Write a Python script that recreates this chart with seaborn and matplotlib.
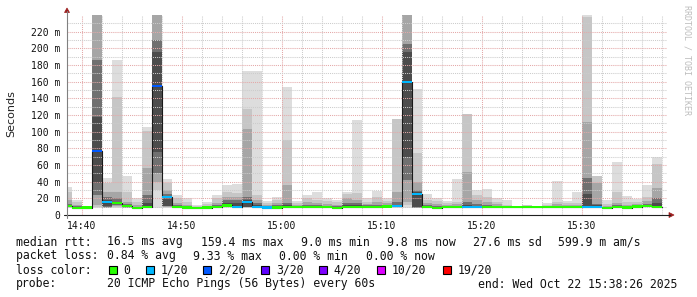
import numpy as np
import pandas as pd
import matplotlib
matplotlib.use("Agg")
import matplotlib.pyplot as plt
import seaborn as sns
from matplotlib.patches import Rectangle, Polygon

# ---------------- data ----------------
# one step per minute, minute index counted from 14:38
minutes = list(range(60))

median_ms = [11, 8.8, 9, 77, 15.5, 14, 10.5, 8.4, 10, 155,
             22, 10, 9, 8.8, 9, 10, 11.5, 10, 15.5, 10,
             9, 9, 9.5, 9.5, 10, 9.5, 9.2, 8.6, 9.8, 10,
             10, 9.5, 10.3, 10.5, 159.4, 25, 9.6, 8.6, 9.4, 9.4,
             9.4, 9.4, 9.4, 9.4, 9.4, 9.4, 9.4, 9.4, 9.4, 9.4,
             10, 9.2, 9.8, 9.8, 8.5, 9.8, 9, 10.2, 11, 9.8]

# index into loss_colors for each step
loss_step = [0, 0, 0, 2, 1, 0, 0, 0, 0, 2,
             1, 0, 0, 0, 0, 0, 0, 1, 1, 1,
             1, 0, 0, 0, 0, 0, 0, 0, 0, 0,
             0, 0, 0, 1, 1, 1, 0, 0, 0, 0,
             1, 1, 0, 0, 0, 0, 0, 0, 0, 0,
             0, 0, 1, 1, 0, 0, 0, 0, 0, 0]

# smoke bands (outer / lightest = 1 ... inner / darkest = 5), in ms
smoke_top_1 = [34, 18, 11, 250, 44, 186, 47, 21, 105, 250,
               43, 24, 21, 11.5, 15, 24, 36, 37, 173, 173,
               17, 22, 153, 17, 24, 28, 20, 18, 28, 114,
               21, 29, 21, 115, 250, 151, 25, 20, 17, 43,
               121, 30, 31, 20, 18, 11, 12, 10.5, 14, 41,
               17, 28, 241, 47, 18, 63, 23, 19, 36, 70]
smoke_top_2 = [28, 15, 10.5, 250, 38, 141, 28, 16, 101, 250,
               38, 20, 16, 10.5, 13, 20, 28, 27, 127, 24,
               14, 18, 90, 14, 20, 18, 17, 15, 25, 26,
               16, 22, 17, 115, 250, 74, 18, 17, 14, 16,
               121, 24, 22, 16, 12.5, 10.5, 11.5, 10.3, 12, 16,
               14, 14, 237, 47, 13, 28, 16, 16, 22, 61]
smoke_top_3 = [18, 12, 10, 250, 28, 28, 16, 12, 56, 250,
               30, 14, 12, 10, 11, 14, 22, 22, 103, 18,
               12, 14, 36, 12, 16, 14, 13, 12, 20, 18,
               13, 16, 14, 28, 250, 40, 14, 13, 12, 13,
               51, 18, 16, 13, 11, 10.2, 11, 10.2, 11, 13,
               12, 12, 112, 38, 11, 15, 12, 13, 17, 32]
smoke_top_4 = [13, 11, 9.5, 186, 22, 20, 13, 10, 24, 210,
               25, 12, 10.5, 9.5, 10, 11.5, 18, 18, 22, 14,
               10.5, 11.5, 15, 11, 12, 12, 11, 10.5, 14, 14,
               11.5, 12, 12, 16, 205, 30, 12, 10.5, 10.5, 11,
               16, 13, 12, 11, 10.5, 10, 10.5, 10.1, 10.5, 11,
               11, 10.5, 44, 13, 10, 12, 10.5, 11.5, 13, 20]
smoke_top_5 = [12, 10, 9.2, 118, 18, 16, 12, 9.5, 14, 195,
               23, 11, 10, 9.2, 9.6, 10.5, 14, 14, 18, 12,
               10, 10.5, 12, 10.5, 11, 11, 10, 10, 12, 12,
               11, 11, 11, 12, 196, 27, 11, 9.5, 10, 10.5,
               12, 11, 11, 10.5, 10, 9.8, 10, 10, 10, 10.5,
               10.5, 10, 25, 11.5, 9.5, 11, 10, 11, 12, 14]

smoke_bot_1 = [9, 8, 8, 8, 8, 9, 8, 7.5, 8, 9,
               9, 8, 7.5, 7.5, 8, 8.5, 9, 8.5, 8, 8.5,
               7.5, 7.5, 8, 8, 8.5, 8, 8, 7.5, 8.5, 8.5,
               8.5, 8, 9, 9, 9, 8, 8, 7.5, 8, 8,
               8, 8, 8, 8, 8, 8, 8, 8, 8, 8,
               8.5, 8, 8, 8, 7.5, 8.5, 7.5, 9, 9.5, 8.5]
smoke_bot_2 = [9.5, 8.3, 8.3, 10, 8.5, 10, 8.5, 7.8, 8.5, 30,
               9.5, 8.5, 8, 8, 8.3, 9, 9.5, 9, 9, 9,
               8, 8, 8.5, 8.5, 9, 8.5, 8.3, 8, 9, 9,
               9, 8.5, 9.5, 9.5, 12, 8.5, 8.5, 8, 8.5, 8.5,
               8.5, 8.5, 8.5, 8.5, 8.5, 8.5, 8.5, 8.5, 8.5, 8.5,
               9, 8.5, 8.5, 8.5, 8, 9, 8, 9.5, 10, 9]
smoke_bot_3 = [10, 8.5, 8.5, 12, 9, 11, 9, 8, 9, 40,
               10, 9, 8.3, 8.3, 8.5, 9.3, 10, 9.3, 10, 9.3,
               8.3, 8.3, 8.8, 8.8, 9.3, 8.8, 8.6, 8.2, 9.3, 9.3,
               9.3, 8.8, 9.8, 9.8, 16, 8.8, 8.8, 8.2, 8.8, 8.8,
               8.8, 8.8, 8.8, 8.8, 8.8, 8.8, 8.8, 8.8, 8.8, 8.8,
               9.3, 8.8, 9, 9, 8.2, 9.3, 8.5, 9.7, 10.3, 9.3]
smoke_bot_4 = [10.3, 8.6, 8.7, 24, 10, 12, 9.5, 8.1, 9.3, 50,
               10.5, 9.3, 8.6, 8.5, 8.7, 9.5, 10.5, 9.5, 11, 9.5,
               8.6, 8.6, 9, 9, 9.5, 9, 8.8, 8.4, 9.5, 9.5,
               9.5, 9, 10, 10, 42, 9, 9.2, 8.4, 9, 9,
               9, 9, 9, 9, 9, 9, 9, 9, 9, 9,
               9.5, 9, 9.2, 9.2, 8.3, 9.5, 8.7, 9.9, 10.5, 9.5]
smoke_bot_5 = [10.6, 8.7, 8.8, 38, 10.5, 13, 10, 8.2, 9.6, 75,
               10.5, 9.6, 8.8, 8.6, 8.8, 9.7, 11, 9.7, 9.5, 9.7,
               8.8, 8.8, 9.2, 9.2, 9.7, 9.2, 9, 8.5, 9.6, 9.7,
               9.7, 9.2, 10.1, 10.2, 70, 9.5, 9.4, 8.5, 9.2, 9.2,
               9.2, 9.2, 9.2, 9.2, 9.2, 9.2, 9.2, 9.2, 9.2, 9.2,
               9.7, 9, 9.5, 9.5, 8.4, 9.6, 8.8, 10, 10.7, 9.6]

smoke_colors = ['#dddddd', '#c6c6c6', '#a6a6a6', '#707070', '#4c4c4c']

time_ticks = [2, 12, 22, 32, 42, 52]
time_labels = ['14:40', '14:50', '15:00', '15:10', '15:20', '15:30']
y_ticks = [0, 20, 40, 60, 80, 100, 120, 140, 160, 180, 200, 220]
y_labels = ['0', '20 m', '40 m', '60 m', '80 m', '100 m', '120 m', '140 m',
            '160 m', '180 m', '200 m', '220 m']

loss_colors = ['#26ff00', '#00b8ff', '#0059ff', '#5e00ff', '#7e00ff', '#dd00ff', '#ff0000']
loss_labels = ['0', '1/20', '2/20', '3/20', '4/20', '10/20', '19/20']

row_rtt = ['median rtt:', '16.5 ms avg', '159.4 ms max', '9.0 ms min', '9.8 ms now',
           '27.6 ms sd', '599.9 m am/s']
row_loss = ['packet loss:', '0.84 % avg', '9.33 % max', '0.00 % min', '0.00 % now']
row_probe = ['probe:', '20 ICMP Echo Pings (56 Bytes) every 60s',
             'end: Wed Oct 22 15:38:26 2025']

# ---------------- figure ----------------
sns.set_style('white')
plt.rcParams['font.family'] = ['DejaVu Sans Mono', 'DejaVu Sans']

W, H = 697, 297
fig = plt.figure(figsize=(W / 100, H / 100), dpi=100)
fig.patch.set_facecolor('white')
ax = fig.add_axes([67 / W, (H - 215) / H, 600 / W, 200 / H])
ax.set_facecolor('white')

mins = np.array(minutes)
tops = [smoke_top_1, smoke_top_2, smoke_top_3, smoke_top_4, smoke_top_5]
bots = [smoke_bot_1, smoke_bot_2, smoke_bot_3, smoke_bot_4, smoke_bot_5]
for lo, hi, col in zip(bots, tops, smoke_colors):
    lo = np.array(lo, float)
    hi = np.array(hi, float)
    ax.bar(mins, hi - lo, bottom=lo, width=1.0, align='edge', color=col,
           linewidth=0, zorder=1)

# dark stepped median line
step_df = pd.DataFrame({'t': minutes + [60], 'ms': median_ms + [median_ms[-1]]})
sns.lineplot(data=step_df, x='t', y='ms', drawstyle='steps-post', color='#1a1a1a',
             linewidth=0.8, ax=ax, estimator=None, sort=False, zorder=2.6)

# median coloured by loss
med = np.array(median_ms, float)
ax.bar(mins, 2.6, bottom=med - 1.3, width=1.0, align='edge',
       color=[loss_colors[i] for i in loss_step], linewidth=0, zorder=3)

ax.set_xlim(0.5, 60.5)
ax.set_ylim(0, 240)
ax.set_xticks(time_ticks)
ax.set_xticklabels(time_labels)
ax.set_xticks([m for m in range(4, 61, 2) if (m - 2) % 10 != 0], minor=True)
ax.set_yticks(y_ticks)
ax.set_yticklabels(y_labels)
ax.set_yticks(list(range(10, 240, 20)), minor=True)
ax.set_axisbelow(False)
ax.grid(which='major', color='#e4a8a8', linestyle=(0, (1, 1)), linewidth=0.75)
ax.grid(which='minor', color='#cccccc', linestyle=(0, (1, 1)), linewidth=0.75)
ax.tick_params(which='both', length=0)
ax.tick_params(axis='x', pad=4, labelsize=7)
ax.tick_params(axis='y', pad=5, labelsize=7)
for lab in ax.get_xticklabels() + ax.get_yticklabels():
    lab.set_family('DejaVu Sans Mono')
    lab.set_color('#111111')
for s in ax.spines.values():
    s.set_visible(False)
ax.set_xlabel('')
ax.set_ylabel('')


def px(x, y):
    return x / W, 1 - y / H


# axis lines and arrows
fig.add_artist(plt.Line2D([px(64, 0)[0], px(670, 0)[0]], [px(0, 215)[1]] * 2,
                          color='#202020', lw=0.8, transform=fig.transFigure))
fig.add_artist(plt.Line2D([px(67, 0)[0]] * 2, [px(0, 218)[1], px(0, 11)[1]],
                          color='#808080', lw=0.8, transform=fig.transFigure))
arrow_c = '#9b1c1c'
fig.add_artist(Polygon([px(669, 212.5), px(674, 215), px(669, 217.5)], closed=True,
                       facecolor=arrow_c, edgecolor=arrow_c, lw=0.5,
                       transform=fig.transFigure))
fig.add_artist(Polygon([px(64.5, 12.5), px(67, 8), px(69.5, 12.5)], closed=True,
                       facecolor=arrow_c, edgecolor=arrow_c, lw=0.5,
                       transform=fig.transFigure))

# texts
fig.text(*px(11, 114), 'Seconds', rotation=90, ha='center', va='center',
         fontsize=8, family='DejaVu Sans', color='#222222')
fig.text(*px(687.5, 5), 'RRDTOOL / TOBI OETIKER', rotation=270, ha='center', va='top',
         fontsize=6, family='DejaVu Sans Mono', color='#bdbdbd')

FS = 8.3
mono = dict(fontsize=FS, family='DejaVu Sans Mono', color='#111111', va='baseline', ha='left')
for x, s in zip([16, 107.3, 200.7, 300.7, 386.7, 472.7, 558.3], row_rtt):
    fig.text(*px(x, 245.5), s, **mono)
for x, s in zip([16, 107.3, 193.3, 279.3, 365.7], row_loss):
    fig.text(*px(x, 259.5), s, **mono)
fig.text(*px(16, 273.5), 'loss color:', **mono)
for x, c, s in zip([109, 145.7, 203.3, 261.3, 319.3, 377.3, 442.7], loss_colors, loss_labels):
    fig.add_artist(Rectangle(px(x, 273.5), 8 / W, 8 / H, transform=fig.transFigure,
                             facecolor=c, edgecolor='black', lw=0.8))
    fig.text(*px(x + 14.5, 273.5), s, **mono)
for x, s in zip([16, 107.3, 478.3], row_probe):
    fig.text(*px(x, 287.5), s, **mono)

fig.savefig('out.png', dpi=100, facecolor='white')
